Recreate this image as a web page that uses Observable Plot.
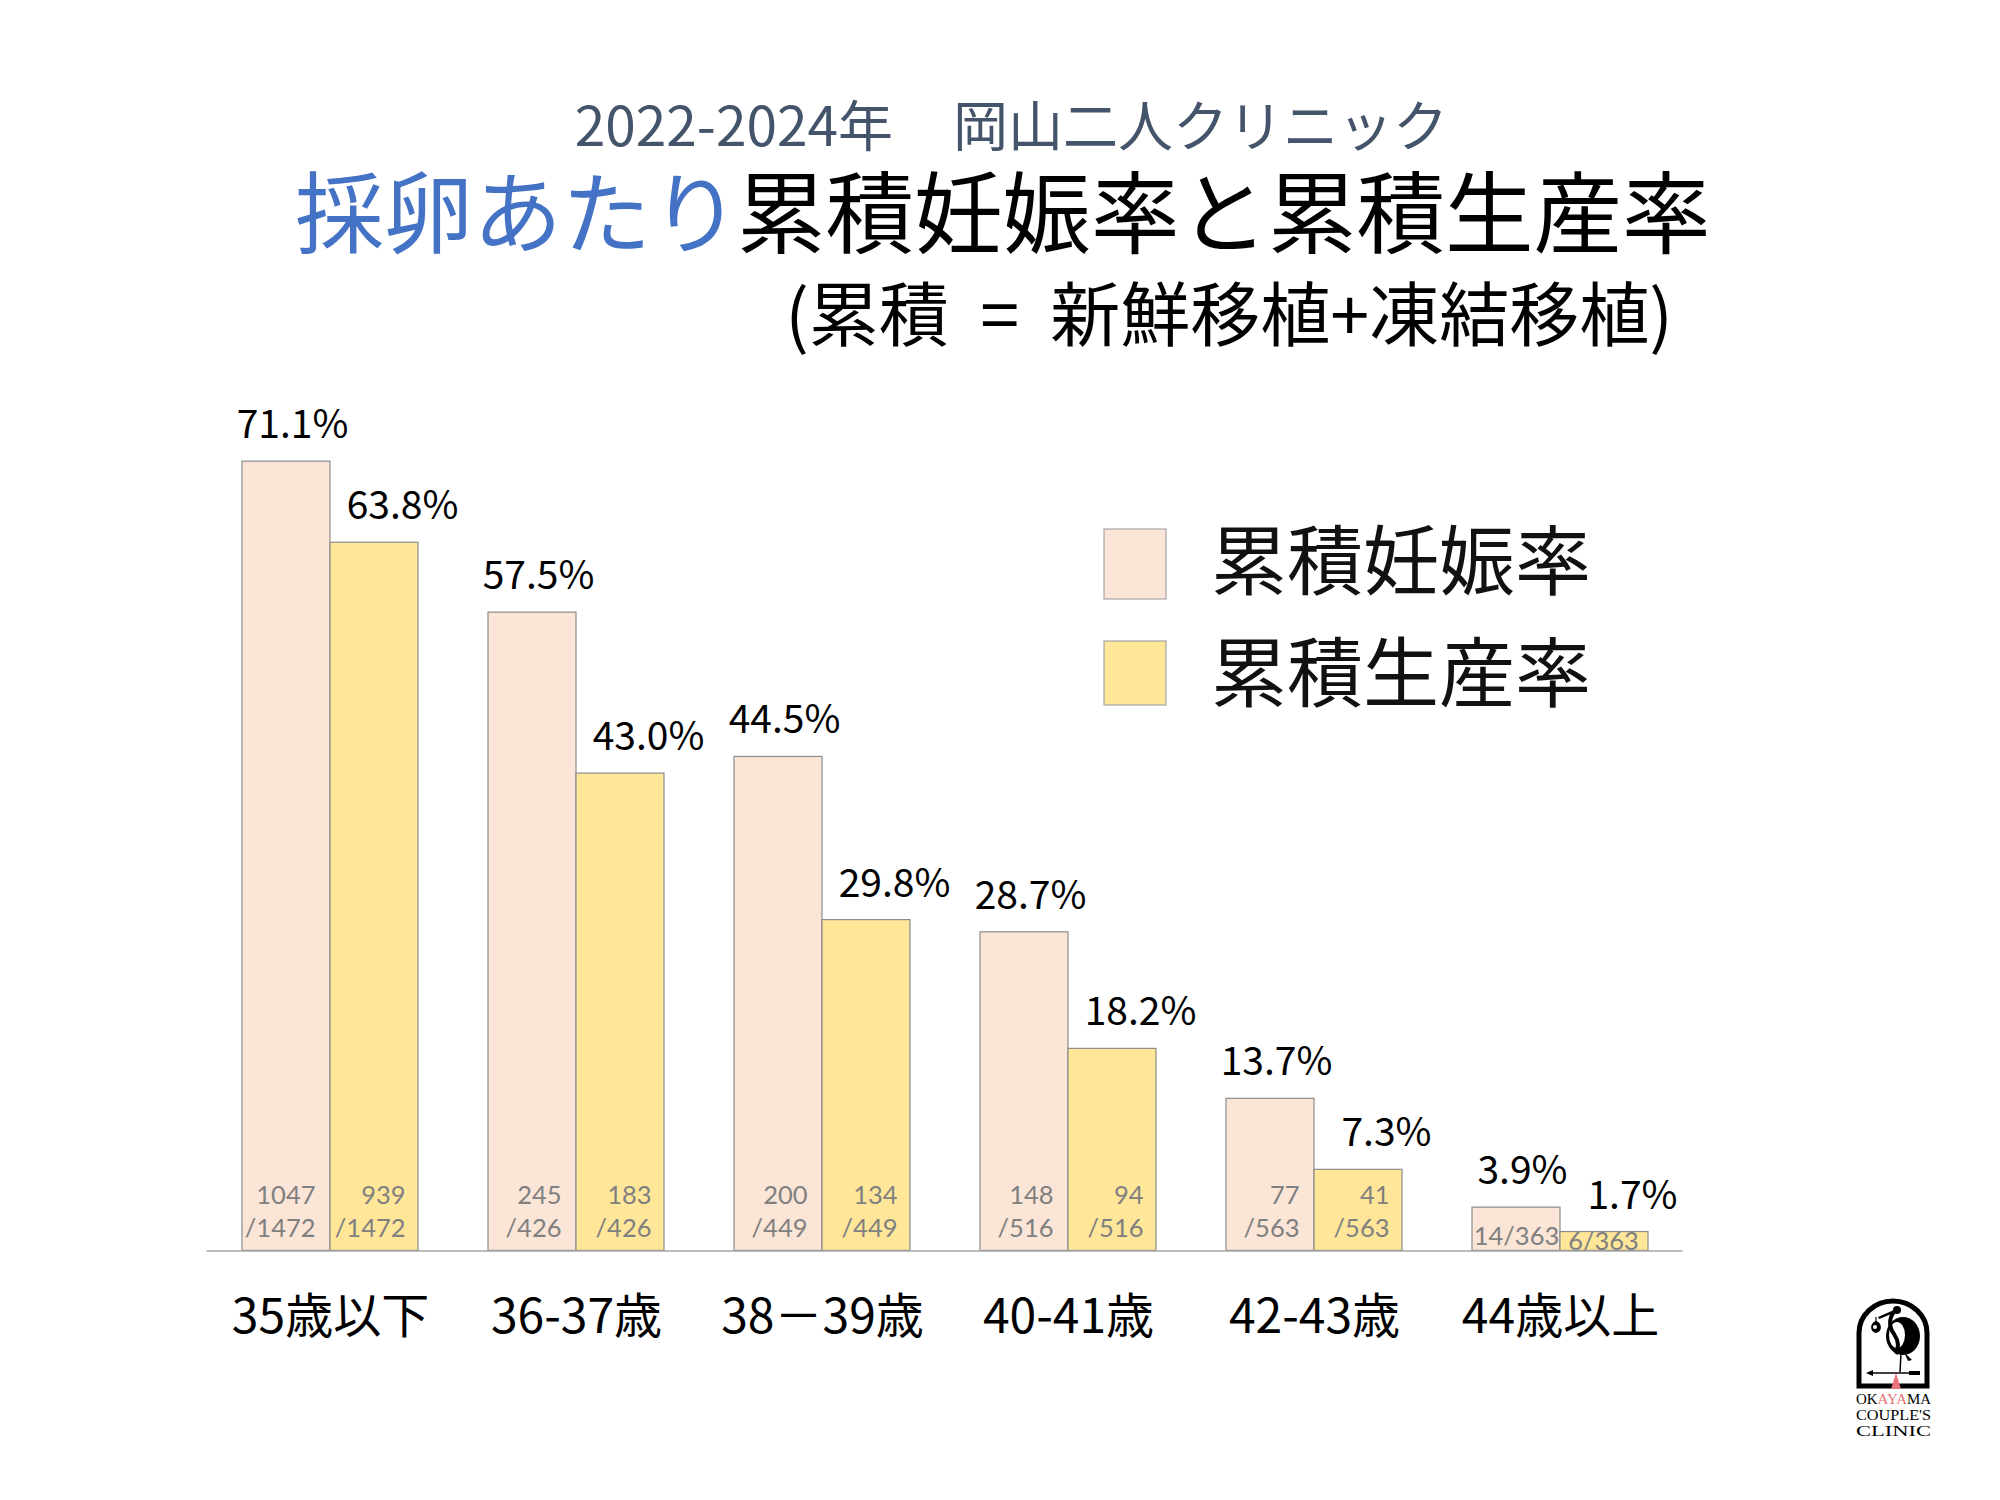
<!DOCTYPE html>
<html>
<head>
<meta charset="utf-8">
<script src="https://cdn.jsdelivr.net/npm/d3@7"></script>
<script src="https://cdn.jsdelivr.net/npm/@observablehq/plot@0.6"></script>
<style>
  html, body { margin: 0; padding: 0; background: #fff; }
  #page { position: relative; width: 2000px; height: 1500px; overflow: hidden; font-family: "Noto Sans CJK JP", sans-serif; }
  #header { position: absolute; left: 0; top: 0; width: 2000px; height: 380px; }
  #header div { position: absolute; line-height: 1; white-space: pre; }
  #chart { position: absolute; left: 0; top: 380px; }
  #overlay { position: absolute; left: 0; top: 0; pointer-events: none; }
</style>
</head>
<body>
<div id="page">
  <div id="header">
    <div style="right:1107px; top:94.5px; font-size:55px; color:#44546A;">2022-2024年</div>
    <div style="left:953px; top:94.5px; font-size:55px; color:#44546A;">岡山二人クリニック</div>
    <div style="right:1260px; top:162.6px; font-size:89px; color:#4472C4;">採卵あたり</div>
    <div style="left:737px; top:162.9px; font-size:88.5px; color:#000;">累積妊娠率と累積生産率</div>
    <div style="left:729px; width:1000px; text-align:center; top:276px; font-size:70px; color:#000;">(累積  =  新鮮移植+凍結移植)</div>
  </div>
  <div id="chart"></div>
  <svg id="overlay" width="2000" height="1500" xmlns="http://www.w3.org/2000/svg" font-family="Noto Sans CJK JP, sans-serif"></svg>
</div>
<script>
// ---- data ----
const categories = ["35歳以下", "36-37歳", "38－39歳", "40-41歳", "42-43歳", "44歳以上"];
const seriesNames = ["累積妊娠率", "累積生産率"];
const pregnancyRate = [71.1, 57.5, 44.5, 28.7, 13.7, 3.9];
const birthRate = [63.8, 43.0, 29.8, 18.2, 7.3, 1.7];
const pregnancyCount = [1047, 245, 200, 148, 77, 14];
const birthCount = [939, 183, 134, 94, 41, 6];
const retrievalTotal = [1472, 426, 449, 516, 563, 363];
const seriesColors = ["#FBE5D6", "#FFE699"];

const preg = categories.map((c, i) => ({category: c, series: seriesNames[0], rate: pregnancyRate[i], count: pregnancyCount[i], total: retrievalTotal[i], idx: i}));
const birth = categories.map((c, i) => ({category: c, series: seriesNames[1], rate: birthRate[i], count: birthCount[i], total: retrievalTotal[i], idx: i}));
const last = categories.length - 1;

const pctText = d => d.rate.toFixed(1) + "%";
const countText = d => `${d.count}\n/${d.total}`;
const shortCountText = d => `${d.count}/${d.total}`;

const half = 88; // half of group band width in px
const ff = "Noto Sans CJK JP, sans-serif";
const numFont = "Lato, Noto Sans CJK JP, sans-serif";

const chart = Plot.plot({
  width: 2000,
  height: 1120,
  marginLeft: 206.5,
  marginRight: 317.5,
  marginTop: 37.9,
  marginBottom: 249.6,
  style: {fontFamily: ff, background: "transparent", overflow: "visible"},
  x: {domain: categories, paddingInner: 0.2846, paddingOuter: 0.1423},
  y: {domain: [0, 75], axis: null},
  marks: [
    Plot.barY(preg, {x: "category", y: "rate", fill: seriesColors[0], stroke: "#8c8c8c", strokeWidth: 1.2, insetRight: half}),
    Plot.barY(birth, {x: "category", y: "rate", fill: seriesColors[1], stroke: "#8c8c8c", strokeWidth: 1.2, insetLeft: half}),
    Plot.ruleY([0], {stroke: "#a6a6a6", strokeWidth: 1.5}),
    // percentage labels
    Plot.text(preg, {x: "category", y: "rate", text: pctText, dx: -38, dy: -36, lineAnchor: "middle", fontSize: 39, fill: "#000"}),
    Plot.text(birth, {x: "category", y: "rate", text: pctText, dx: 72, dy: -36, lineAnchor: "middle", fontSize: 39, fill: "#000"}),
    // count labels (two-line)
    Plot.text(preg.filter(d => d.idx < last), {x: "category", y: 0, text: countText, textAnchor: "end", dx: -15, dy: -41, lineAnchor: "middle", lineHeight: 1.3, fontSize: 25.5, fontFamily: numFont, fill: "#808080"}),
    Plot.text(birth.filter(d => d.idx < last), {x: "category", y: 0, text: countText, textAnchor: "end", dx: half - 13, dy: -41, lineAnchor: "middle", lineHeight: 1.3, fontSize: 25.5, fontFamily: numFont, fill: "#808080"}),
    // count labels (single-line, last group)
    Plot.text(preg.filter(d => d.idx === last), {x: "category", y: 0, text: shortCountText, dx: -44, dy: -14, lineAnchor: "middle", fontSize: 25.5, fontFamily: numFont, fill: "#808080"}),
    Plot.text(birth.filter(d => d.idx === last), {x: "category", y: 0, text: shortCountText, dx: 43, dy: -9, lineAnchor: "middle", fontSize: 25.5, fontFamily: numFont, fill: "#808080"}),
    Plot.axisX({tickSize: 0, tickPadding: 48, fontSize: 48, fill: "#000", label: null})
  ]
});
document.getElementById("chart").appendChild(chart);

// ---- legend & logo overlay ----
const ov = d3.select("#overlay");
const legendRows = [{y: 529, h: 70, cy: 556}, {y: 641, h: 64, cy: 668}];
seriesNames.forEach((name, i) => {
  const r = legendRows[i];
  ov.append("rect").attr("x", 1104).attr("y", r.y).attr("width", 62).attr("height", r.h)
    .attr("fill", seriesColors[i]).attr("stroke", "#a6a6a6").attr("stroke-width", 1.2);
  ov.append("text").attr("x", 1211).attr("y", r.cy).attr("font-size", 76).attr("fill", "#111")
    .attr("dominant-baseline", "central").text(name);
});

// logo (Okayama Couple's Clinic)
const lg = ov.append("g").attr("transform", "translate(1856,1298)");
lg.append("path").attr("d", "M3,88 L3,35 A34,32 0 0 1 71,35 L71,88 Z")
  .attr("fill", "#fff").attr("stroke", "#000").attr("stroke-width", 5);
// crane body (crescent)
lg.append("ellipse").attr("cx", 47).attr("cy", 38).attr("rx", 17).attr("ry", 19).attr("fill", "#000");
lg.append("ellipse").attr("cx", 41).attr("cy", 37).attr("rx", 8).attr("ry", 13).attr("fill", "#fff");
// neck and head
lg.append("path").attr("d", "M40,12 C33,18 32,28 38,36 C42,42 44,48 40,56").attr("fill", "none").attr("stroke", "#000").attr("stroke-width", 4);
lg.append("circle").attr("cx", 41).attr("cy", 12).attr("r", 4).attr("fill", "#000");
lg.append("path").attr("d", "M38,12 L22,19 L23,21 L38,15 Z").attr("fill", "#000");
// bundle hanging from beak
lg.append("line").attr("x1", 20).attr("y1", 19).attr("x2", 20).attr("y2", 24).attr("stroke", "#000").attr("stroke-width", 1.2);
lg.append("path").attr("d", "M20,23 C14,24 13,34 20,35 C27,34 26,24 20,23 Z").attr("fill", "#000");
lg.append("circle").attr("cx", 19).attr("cy", 29).attr("r", 2).attr("fill", "#fff");
// legs
lg.append("line").attr("x1", 45).attr("y1", 55).attr("x2", 44).attr("y2", 74).attr("stroke", "#000").attr("stroke-width", 1.5);
lg.append("path").attr("d", "M48,54 L56,62 L52,63 Z").attr("fill", "#000");
// arrow
lg.append("line").attr("x1", 12).attr("y1", 75).attr("x2", 64).attr("y2", 75).attr("stroke", "#000").attr("stroke-width", 1.5);
lg.append("path").attr("d", "M10,75 L17,72 L17,78 Z").attr("fill", "#000");
lg.append("rect").attr("x", 53).attr("y", 73).attr("width", 11).attr("height", 4).attr("fill", "#000");
// pink triangle
lg.append("path").attr("d", "M40,75 L35,91 L45,91 Z").attr("fill", "#e8737a");
const serif = "Liberation Serif, DejaVu Serif, serif";
const t1 = lg.append("text").attr("x", 37.5).attr("y", 106).attr("font-family", serif).attr("font-size", 15)
  .attr("text-anchor", "middle").attr("textLength", 75).attr("lengthAdjust", "spacingAndGlyphs");
t1.append("tspan").attr("fill", "#000").text("OK");
t1.append("tspan").attr("fill", "#e8737a").text("AYA");
t1.append("tspan").attr("fill", "#000").text("MA");
lg.append("text").attr("x", 37.5).attr("y", 122).attr("font-family", serif).attr("font-size", 15)
  .attr("text-anchor", "middle").attr("textLength", 75).attr("lengthAdjust", "spacingAndGlyphs").text("COUPLE'S");
lg.append("text").attr("x", 37.5).attr("y", 138).attr("font-family", serif).attr("font-size", 15)
  .attr("text-anchor", "middle").attr("textLength", 75).attr("lengthAdjust", "spacingAndGlyphs").text("CLINIC");
</script>
</body>
</html>
